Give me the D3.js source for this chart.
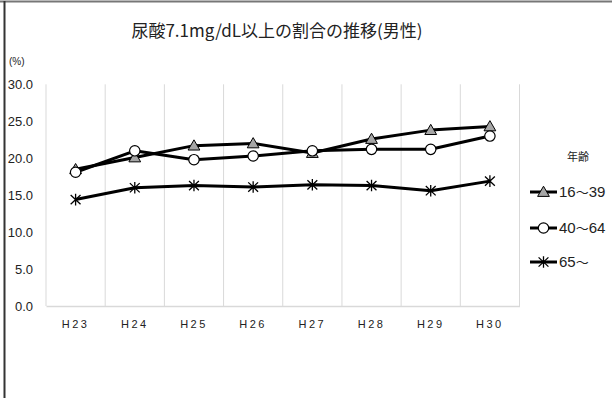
<!DOCTYPE html>
<html><head><meta charset="utf-8">
<script src="https://cdn.jsdelivr.net/npm/d3@7"></script>
<style>body{margin:0;background:#fff}svg{display:block}</style>
</head><body>
<script>
const categories = ["H23","H24","H25","H26","H27","H28","H29","H30"];
const seriesNames = ["16～39","40～64","65～"];
const s16_39 = [18.5,20.1,21.7,22.0,20.7,22.6,23.8,24.3];
const s40_64 = [18.1,21.0,19.8,20.3,21.0,21.2,21.2,23.0];
const s65 = [14.4,16.0,16.3,16.1,16.4,16.3,15.6,16.9];
const yTicks = [0,5,10,15,20,25,30];
const title = "尿酸7.1mg/dL以上の割合の推移(男性)";
const legendTitle = "年齢";
const yUnit = "(%)";

const W=612,H=398;
const svg=d3.select("body").append("svg").attr("width",W).attr("height",H);
svg.append("rect").attr("width",W).attr("height",H).attr("fill","#fff");
// frame
svg.append("line").attr("x1",0).attr("x2",W).attr("y1",1.5).attr("y2",1.5).attr("stroke","#777").attr("stroke-width",2);
svg.append("line").attr("x1",4.5).attr("x2",4.5).attr("y1",1).attr("y2",H).attr("stroke","#333").attr("stroke-width",2);

const x=d3.scaleBand().domain(categories).range([46,519.5]);
const y=d3.scaleLinear().domain([0,30]).range([306,84.3]);
const numFont="'Liberation Sans Narrow','Liberation Sans',sans-serif";
const jpFont="'Noto Sans CJK JP',sans-serif";

// vertical gridlines
const g=svg.append("g");
g.selectAll("line.v").data(categories.map(c=>x(c)).concat([x.range()[1]])).join("line")
 .attr("x1",d=>d).attr("x2",d=>d).attr("y1",y(30)).attr("y2",y(0))
 .attr("stroke","#d9d9d9").attr("stroke-width",1);
// x axis
const xa=svg.append("g").attr("transform",`translate(0,${y(0)})`).call(d3.axisBottom(x).tickSize(0).tickPadding(14));
xa.select(".domain").attr("stroke","#d9d9d9").attr("stroke-width",1.3);
xa.selectAll("text").attr("font-family",numFont).attr("font-size",11).attr("letter-spacing","2.5px").attr("fill","#222");
// y axis
const ya=svg.append("g").attr("transform",`translate(33,0)`).call(d3.axisLeft(y).tickValues(yTicks).tickSize(0).tickPadding(0).tickFormat(d3.format(".1f")));
ya.select(".domain").remove();
ya.selectAll("text").attr("font-family",numFont).attr("font-size",13).attr("fill","#222");

svg.append("text").attr("x",9).attr("y",65).text(yUnit).attr("font-family",numFont).attr("font-size",10).attr("fill","#222");
svg.append("text").attr("x",277).attr("y",37).attr("text-anchor","middle").text(title)
 .attr("font-family",jpFont).attr("font-size",17).attr("fill","#222");

const data=[s16_39,s40_64,s65];
const line=d3.line().x((d,i)=>x(categories[i])+x.bandwidth()/2).y(d=>y(d));

function marker(sel,type){
  if(type===0){
    sel.append("path").attr("d",d3.symbol(d3.symbolTriangle,60)()).attr("transform","translate(0,1)")
      .attr("fill","#a6a6a6").attr("stroke","#000").attr("stroke-width",1);
  } else if(type===1){
    sel.append("circle").attr("r",5.2).attr("fill","#fff").attr("stroke","#000").attr("stroke-width",1.2);
  } else {
    const r=5.8;
    const p=`M0,${-r}L0,${r}M${-r*0.85},${-r*0.8}L${r*0.85},${r*0.8}M${-r*0.85},${r*0.8}L${r*0.85},${-r*0.8}`;
    sel.append("path").attr("d",p).attr("stroke","#000").attr("stroke-width",1.3).attr("fill","none");
  }
}
[2,1,0].forEach(k=>{
  svg.append("path").datum(data[k]).attr("d",line).attr("fill","none").attr("stroke","#000").attr("stroke-width",3).attr("stroke-linejoin","round");
});
[2,0,1].forEach(k=>{
  data[k].forEach((v,i)=>{
    const m=svg.append("g").attr("transform",`translate(${x(categories[i])+x.bandwidth()/2},${y(v)})`);
    marker(m,k);
  });
});

// legend
svg.append("text").attr("x",578).attr("y",161).attr("text-anchor","middle").text(legendTitle)
 .attr("font-family",jpFont).attr("font-size",11).attr("fill","#222");
const ly=[192,228,262];
seriesNames.forEach((n,k)=>{
  svg.append("line").attr("x1",530).attr("x2",557).attr("y1",ly[k]).attr("y2",ly[k]).attr("stroke","#000").attr("stroke-width",3);
  const m=svg.append("g").attr("transform",`translate(543.5,${ly[k]})`);
  marker(m,k);
  const t=svg.append("text").attr("x",559).attr("y",ly[k]+5).attr("font-family",numFont).attr("font-size",15).attr("fill","#222");
  n.split(/(～)/).filter(s=>s.length).forEach(part=>{
    t.append("tspan").text(part).attr("font-family",part==="～"?jpFont:numFont).attr("font-size",part==="～"?13:15);
  });
});
</script>
</body></html>
